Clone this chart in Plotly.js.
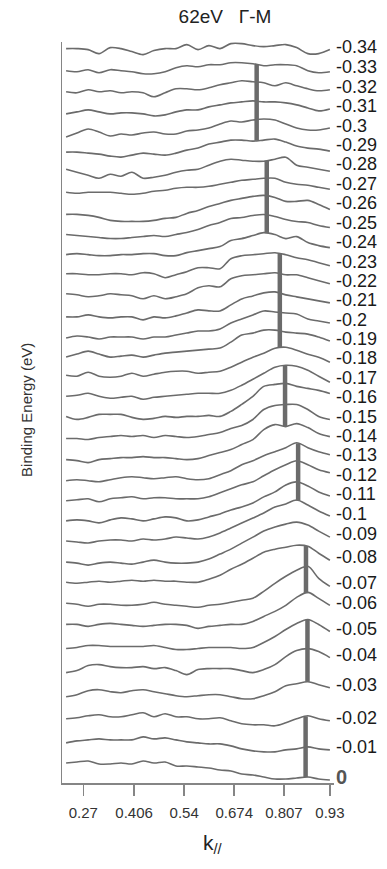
<!DOCTYPE html>
<html>
<head>
<meta charset="utf-8">
<script src="https://cdn.plot.ly/plotly-3.0.1.min.js"></script>
<style>
  html, body { margin: 0; padding: 0; background: #fff; }
  #chart { width: 387px; height: 869px; }
</style>
</head>
<body>
<div id="chart"></div>
<script>
// Momentum grid k// shared by every MDC
const kGrid = [0.224, 0.253, 0.283, 0.312, 0.342, 0.371, 0.400, 0.430, 0.459, 0.489,
               0.518, 0.547, 0.577, 0.606, 0.636, 0.665, 0.694, 0.724, 0.753, 0.783,
               0.812, 0.841, 0.871, 0.900, 0.930];

// Binding energies (eV), bottom curve first, and their printed labels
const energies = [0, -0.01, -0.02, -0.03, -0.04, -0.05, -0.06, -0.07, -0.08, -0.09,
                  -0.10, -0.11, -0.12, -0.13, -0.14, -0.15, -0.16, -0.17, -0.18, -0.19,
                  -0.20, -0.21, -0.22, -0.23, -0.24, -0.25, -0.26, -0.27, -0.28, -0.29,
                  -0.30, -0.31, -0.32, -0.33, -0.34];
const energyLabels = ['0', '-0.01', '-0.02', '-0.03', '-0.04', '-0.05', '-0.06', '-0.07', '-0.08', '-0.09',
                      '-0.1', '-0.11', '-0.12', '-0.13', '-0.14', '-0.15', '-0.16', '-0.17', '-0.18', '-0.19',
                      '-0.2', '-0.21', '-0.22', '-0.23', '-0.24', '-0.25', '-0.26', '-0.27', '-0.28', '-0.29',
                      '-0.3', '-0.31', '-0.32', '-0.33', '-0.34'];

// MDC intensities (arb. units) on kGrid, one per binding energy
const mdc00 = [20,21,22,19,19,20,19,22,20,21,17,17,16,15,13,12,9,8,6,4,4,5,6,4,3];
const mdc01 = [19,21,22,23,22,22,22,25,23,24,22,20,19,18,18,16,13,11,10,10,12,13,15,13,12];
const mdc02 = [22,23,25,26,24,24,26,28,24,27,24,24,22,22,23,20,17,16,16,15,18,22,25,22,20];
const mdc03 = [23,25,29,30,28,27,29,30,28,26,24,23,24,25,25,23,21,21,24,28,34,36,38,35,32];
const mdc04 = [26,28,33,34,32,31,31,32,30,31,28,24,29,30,30,30,28,26,29,34,42,48,50,47,41];
const mdc05 = [29,30,32,32,31,31,31,31,32,30,28,28,29,30,30,30,29,30,35,41,48,54,58,53,46];
const mdc06 = [32,32,30,32,33,32,31,30,31,32,32,31,28,30,31,32,32,35,40,45,51,59,64,58,51];
const mdc07 = [32,31,29,31,31,30,30,31,33,31,30,29,28,30,31,33,35,37,44,52,59,65,69,57,49];
const mdc08 = [32,31,32,33,32,33,34,33,34,33,33,32,32,35,39,45,50,56,62,65,67,69,68,61,54];
const mdc09 = [31,30,28,30,31,30,29,31,33,31,30,30,31,34,39,44,50,56,62,66,69,71,68,62,56];
const mdc10 = [31,30,29,31,32,32,31,33,32,33,35,34,33,35,39,44,49,54,59,65,68,72,67,61,56];
const mdc11 = [30,31,30,28,31,33,32,30,32,34,33,30,31,34,37,41,44,48,54,59,66,69,65,59,55];
const mdc12 = [29,30,31,28,31,32,33,31,32,32,31,31,31,33,37,41,45,48,54,60,65,69,65,60,57];
const mdc13 = [28,29,28,27,29,31,32,31,30,31,32,30,29,30,34,38,44,48,53,57,61,66,61,57,54];
const mdc14 = [28,27,25,28,29,30,30,31,30,30,29,28,29,32,35,38,43,48,58,63,61,64,60,54,51];
const mdc15 = [28,28,27,29,30,31,30,31,29,31,30,29,30,32,34,38,41,47,57,61,62,62,57,50,47];
const mdc16 = [29,26,28,31,31,31,28,26,27,29,28,29,29,30,29,34,41,49,59,61,62,59,57,55,52];
const mdc17 = [28,29,31,28,26,27,28,25,27,28,29,30,31,31,31,34,39,45,51,57,59,58,54,48,42];
const mdc18 = [28,27,31,27,26,27,30,27,29,31,32,32,30,31,32,36,41,46,50,55,56,53,49,46,41];
const mdc19 = [25,28,31,28,25,26,27,25,27,29,30,31,32,33,34,40,47,49,52,52,50,49,48,45,41];
const mdc20 = [23,25,24,22,24,24,24,22,24,24,26,28,30,30,32,38,42,46,50,49,48,47,42,40,38];
const mdc21 = [23,23,25,23,22,23,23,20,23,22,24,27,30,29,29,35,41,44,47,48,45,43,41,39,37];
const mdc22 = [25,24,22,23,25,24,23,20,23,20,22,25,31,33,32,40,43,44,45,46,44,44,41,38,35];
const mdc23 = [24,24,23,23,24,24,23,25,24,20,23,26,30,30,29,39,42,43,44,45,43,40,38,35,32];
const mdc24 = [22,23,22,21,21,22,22,23,23,21,21,24,26,28,30,36,38,41,44,42,38,40,34,31,29];
const mdc25 = [21,20,19,18,17,17,18,19,20,19,21,23,26,30,33,37,38,40,41,39,36,34,33,30,28];
const mdc26 = [20,20,19,17,14,13,13,13,14,16,17,21,24,28,31,34,36,38,39,37,33,33,34,30,25];
const mdc27 = [21,20,21,21,21,20,19,20,22,23,25,26,26,27,29,31,33,34,35,35,31,29,28,26,24];
const mdc28 = [23,20,17,14,18,16,20,14,15,17,20,22,23,27,31,33,32,31,31,33,35,27,25,23,21];
const mdc29 = [19,19,18,17,15,14,16,18,17,16,18,21,23,27,29,31,31,30,31,32,29,25,23,22,20];
const mdc30 = [13,17,21,18,14,16,15,17,18,16,16,19,20,22,26,29,28,30,31,30,26,22,20,20,22];
const mdc31 = [15,17,19,17,15,16,16,15,13,14,17,19,19,22,24,26,27,28,27,27,26,24,21,18,20];
const mdc32 = [16,15,18,16,17,15,16,15,11,15,19,19,18,20,23,25,27,26,25,22,25,22,19,17,18];
const mdc33 = [16,15,17,14,17,16,15,13,13,15,19,21,20,22,22,24,24,23,21,22,22,21,16,14,15];
const mdc34 = [17,17,16,12,18,17,14,11,15,17,17,21,16,20,17,22,22,20,19,20,21,18,12,12,16];

// Peak positions (k//) and the energy-index range each marker spans
const peakK     = [0.865, 0.870, 0.866, 0.845, 0.810, 0.796, 0.761, 0.734];
const peakFirst = [0, 3, 6, 10, 14, 18, 24, 29];
const peakLast  = [2, 5, 8, 13, 17, 23, 28, 33];

// Tick labels on the momentum axis
const kTicks = [0.27, 0.406, 0.54, 0.674, 0.807, 0.93];
const kTickText = ['0.27', '0.406', '0.54', '0.674', '0.807', '0.93'];

const mdcs = [mdc00, mdc01, mdc02, mdc03, mdc04, mdc05, mdc06, mdc07, mdc08, mdc09,
              mdc10, mdc11, mdc12, mdc13, mdc14, mdc15, mdc16, mdc17, mdc18, mdc19,
              mdc20, mdc21, mdc22, mdc23, mdc24, mdc25, mdc26, mdc27, mdc28, mdc29,
              mdc30, mdc31, mdc32, mdc33, mdc34];

// Vertical stacking step between successive curves
const STACK = 21.1;
const CURVE_COLOR = '#6b6b6b';
const AXIS_COLOR = '#858585';
const FONT = 'Liberation Sans, Arial, Helvetica, sans-serif';

function stacked(i) { return mdcs[i].map(v => v + i * STACK); }

function valueAt(i, k) {
  const ys = stacked(i);
  for (let j = 0; j < kGrid.length - 1; j++) {
    if (k >= kGrid[j] && k <= kGrid[j + 1]) {
      const t = (k - kGrid[j]) / (kGrid[j + 1] - kGrid[j]);
      return ys[j] + t * (ys[j + 1] - ys[j]);
    }
  }
  return ys[ys.length - 1];
}

const traces = [];

// Stacked MDC curves
mdcs.forEach((_, i) => {
  traces.push({
    type: 'scatter', mode: 'lines',
    x: kGrid, y: stacked(i),
    line: { color: CURVE_COLOR, width: 1.6, shape: 'spline', smoothing: 0.9 },
    hoverinfo: 'skip', showlegend: false
  });
});

// Peak markers: vertical bars joining the peak across a group of curves
peakK.forEach((k, b) => {
  traces.push({
    type: 'scatter', mode: 'lines',
    x: [k, k],
    y: [valueAt(peakLast[b], k), valueAt(peakFirst[b], k)],
    line: { color: CURVE_COLOR, width: 4.5 },
    hoverinfo: 'skip', showlegend: false
  });
});

// Energy labels at the right end of each curve, nudged apart so they never overlap
const lastK = kGrid[kGrid.length - 1];
const labelY = mdcs.map((_, i) => stacked(i)[kGrid.length - 1]);
const MIN_GAP = 19.5;
for (let pass = 0; pass < 60; pass++) {
  for (let i = 0; i < labelY.length - 1; i++) {
    const gap = labelY[i + 1] - labelY[i];
    if (gap < MIN_GAP) {
      const d = (MIN_GAP - gap) / 2;
      labelY[i] -= d;
      labelY[i + 1] += d;
    }
  }
}
const annotations = energyLabels.map((txt, i) => ({
  x: lastK, y: labelY[i], xref: 'x', yref: 'y',
  text: i === 0 ? '<b>' + txt + '</b>' : txt,
  showarrow: false, xanchor: 'left', yanchor: 'middle',
  xshift: 4, yshift: 3,
  font: { family: FONT, size: i === 0 ? 20 : 18, color: i === 0 ? '#555555' : '#1a1a1a' }
}));

// Axis captions placed in paper coordinates
annotations.push({
  text: 'Binding Energy (eV)', textangle: -90,
  xref: 'paper', yref: 'paper', x: -0.13, y: 0.503,
  xanchor: 'center', yanchor: 'middle', showarrow: false,
  font: { family: FONT, size: 15, color: '#333333' }
});
annotations.push({
  text: 'k<sub>//</sub>',
  xref: 'paper', yref: 'paper', x: 0.555, y: -0.062,
  xanchor: 'center', yanchor: 'top', showarrow: false,
  font: { family: FONT, size: 21, color: '#222222' }
});

const layout = {
  width: 387, height: 869,
  margin: { l: 62, r: 53, t: 42, b: 86 },
  paper_bgcolor: '#ffffff', plot_bgcolor: '#ffffff',
  font: { family: FONT, color: '#222222', size: 15 },
  showlegend: false,
  title: {
    text: '62eV\u00a0\u00a0\u00a0Γ-M',
    x: 225 / 387, xref: 'container', xanchor: 'center',
    y: 1 - 16 / 869, yref: 'container', yanchor: 'middle',
    font: { family: FONT, size: 19, color: '#222222' }
  },
  xaxis: {
    range: [0.213, 0.941],
    tickmode: 'array', tickvals: kTicks, ticktext: kTickText,
    ticks: 'outside', ticklen: 11, tickwidth: 1.5, tickcolor: AXIS_COLOR,
    ticklabelstandoff: 4,
    tickfont: { family: FONT, size: 15, color: '#333333' },
    showline: true, linecolor: AXIS_COLOR, linewidth: 1.5,
    showgrid: false, zeroline: false, fixedrange: true
  },
  yaxis: {
    range: [0, 741],
    showticklabels: false, ticks: '',
    showline: true, linecolor: AXIS_COLOR, linewidth: 1.5,
    showgrid: false, zeroline: false, fixedrange: true
  },
  annotations: annotations
};

Plotly.newPlot('chart', traces, layout, { displayModeBar: false, staticPlot: true });
</script>
</body>
</html>
